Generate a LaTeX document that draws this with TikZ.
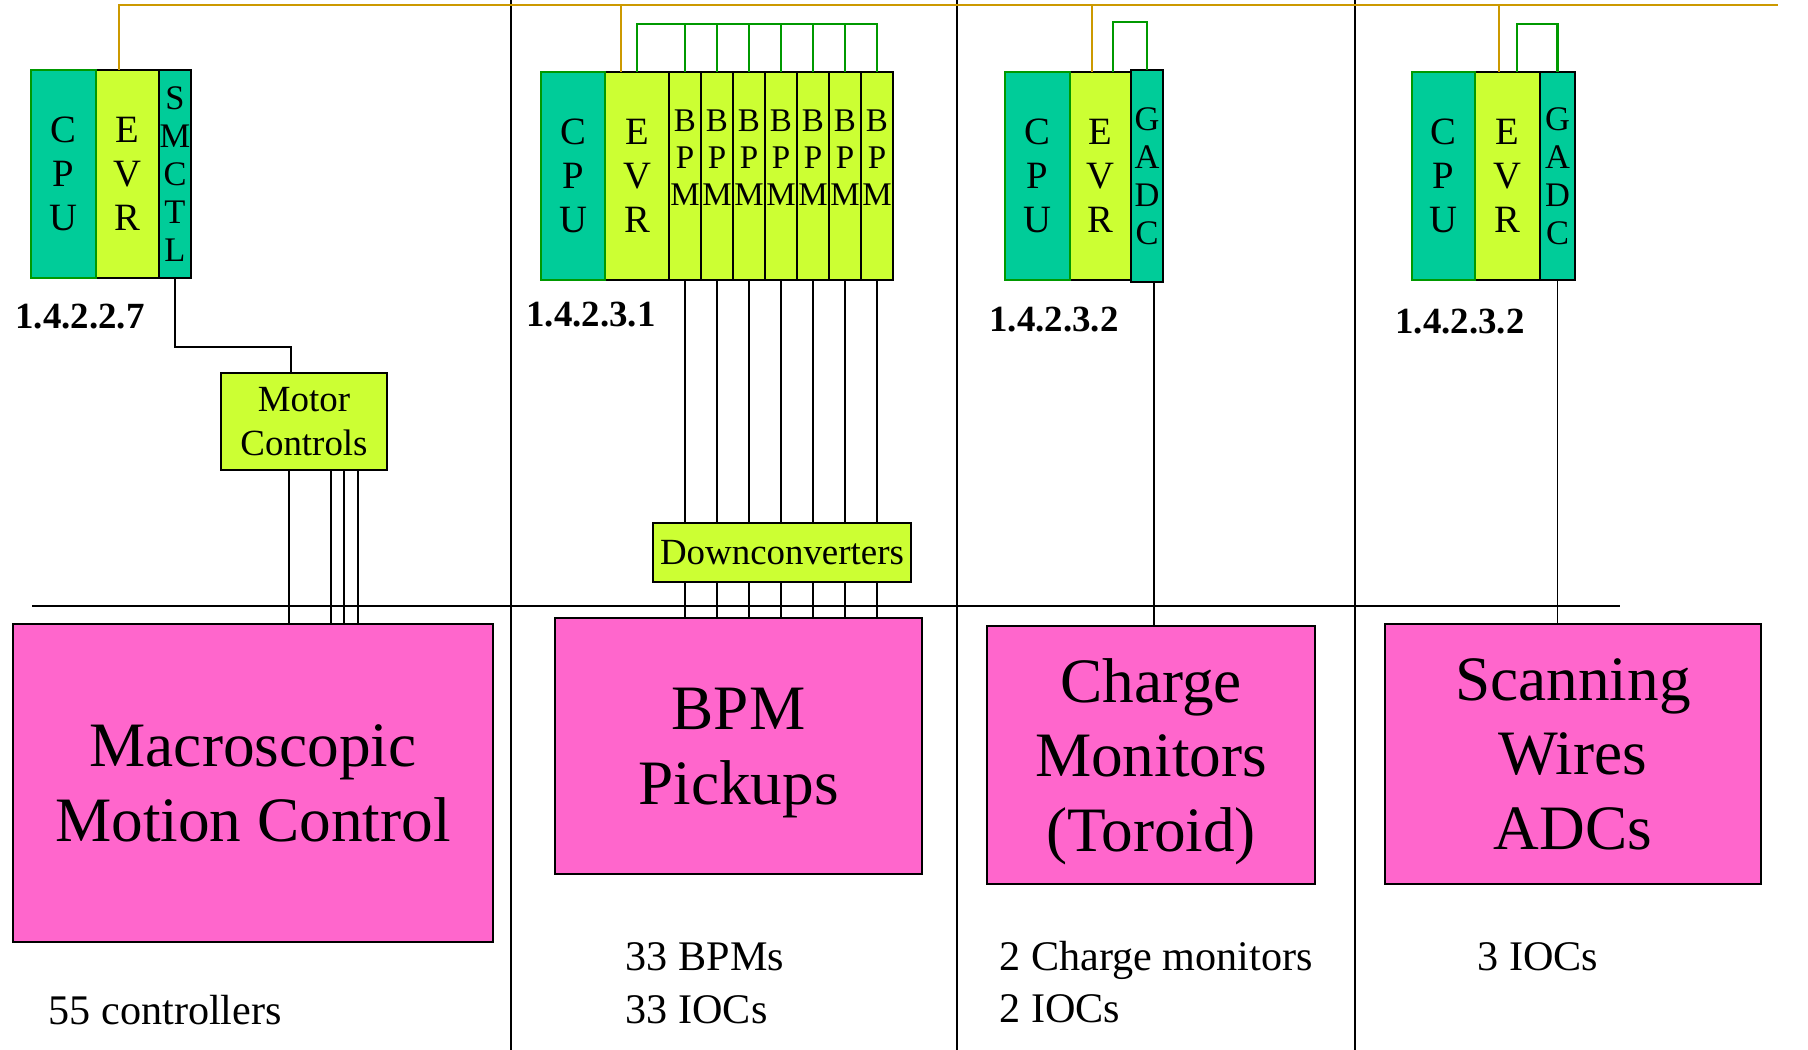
\documentclass[tikz,border=0pt]{standalone}
\usepackage{fontspec}
\setmainfont{Liberation Serif}
\usetikzlibrary{positioning,calc}
\definecolor{iocteal}{HTML}{00CC99}
\definecolor{ioclime}{HTML}{CCFF33}
\definecolor{devpink}{HTML}{FF66CC}
\definecolor{timegold}{HTML}{CC9900}
\definecolor{trigreen}{HTML}{009900}
\tikzset{
    every node/.style={font=\small},
    module/.style={draw=black,line width=0.6pt,inner sep=0pt,outer sep=0pt,align=center,minimum height=20.8mm},
    cpu/.style={module,draw=trigreen,fill=iocteal,font=\fontsize{11}{12.5}\selectfont},
    evr/.style={module,fill=ioclime,font=\fontsize{11}{12.5}\selectfont},
    slot/.style={module,minimum width=3.2mm,font=\fontsize{9.8}{10.8}\selectfont},
    bpm/.style={slot,fill=ioclime,font=\fontsize{9.4}{10.5}\selectfont},
    crateid/.style={font=\bfseries\fontsize{10.5}{12}\selectfont},
    ctrlbox/.style={draw=black,fill=ioclime,line width=0.6pt,inner sep=0pt,align=center,font=\fontsize{10.5}{12.6}\selectfont},
    sysbox/.style={draw=black,fill=devpink,line width=0.7pt,inner sep=0pt,align=center,text depth=0pt,font=\fontsize{18}{21.3}\selectfont},
    count/.style={anchor=west,align=left,inner sep=0pt,font=\fontsize{12}{15}\selectfont},
    wire/.style={draw=black,line width=0.5pt},
    timing/.style={draw=timegold,line width=0.6pt},
    trig/.style={draw=trigreen,line width=0.6pt},
    divider/.style={draw=black,line width=0.6pt}
}

\begin{document}
\begin{tikzpicture}[x=0.1mm,y=-0.1mm]
\useasboundingbox (0,0) rectangle (1808,1050);

% section dividers
\draw[divider] (511,0) -- (511,1050);
\draw[divider] (957,0) -- (957,1050);
\draw[divider] (1355,0) -- (1355,1050);
\draw[divider] (32,606) -- (1620,606);

% crate 1.4.2.2.7
\node[evr,anchor=north west,minimum width=6.3mm] (evrA) at (96,70) {E\\V\\R};
\node[cpu,left=0pt of evrA,minimum width=6.5mm] (cpuA) {C\\P\\U};
\node[slot,fill=iocteal,right=0pt of evrA] (smctl) {S\\M\\C\\T\\L};
\node[crateid] (idA) at (80,317) {1.4.2.2.7};

% crate 1.4.2.3.1
\node[evr,anchor=north west,minimum width=6.4mm] (evrB) at (605,72) {E\\V\\R};
\node[cpu,left=0pt of evrB,minimum width=6.4mm] (cpuB) {C\\P\\U};
\node[bpm,right=0pt of evrB] (bpm1) {B\\P\\M\\\mbox{}};
\foreach \k [count=\j from 1] in {2,...,7}
  \node[bpm,right=0pt of bpm\j] (bpm\k) {B\\P\\M\\\mbox{}};
\node[crateid] (idB) at (591,315) {1.4.2.3.1};

% crate 1.4.2.3.2 (charge)
\node[evr,anchor=north west,minimum width=6.1mm] (evrC) at (1070,72) {E\\V\\R};
\node[cpu,left=0pt of evrC,minimum width=6.5mm] (cpuC) {C\\P\\U};
\node[slot,fill=iocteal,right=0pt of evrC,minimum height=21.2mm] (gadcC) {G\\A\\D\\C};
\node[crateid] (idC) at (1054,320) {1.4.2.3.2};

% crate 1.4.2.3.2 (wires)
\node[evr,anchor=north west,minimum width=6.5mm] (evrD) at (1475,72) {E\\V\\R};
\node[cpu,left=0pt of evrD,minimum width=6.3mm] (cpuD) {C\\P\\U};
\node[slot,fill=iocteal,right=0pt of evrD,minimum width=3.5mm] (gadcD) {G\\A\\D\\C};
\node[crateid] (idD) at (1460,322) {1.4.2.3.2};

% front end boxes
\node[ctrlbox,minimum width=16.6mm,minimum height=9.7mm] (motor) at (304,421.5) {Motor\\Controls};
\node[ctrlbox,minimum width=25.8mm,minimum height=5.9mm] (dc) at (782,552.5) {Downconverters};

\node[sysbox,minimum width=48mm,minimum height=31.8mm] (macro) at (253,783) {Macroscopic\\Motion Control};
\node[sysbox,minimum width=36.7mm,minimum height=25.6mm] (pick) at (738.5,746) {BPM\\Pickups};
\node[sysbox,minimum width=32.8mm,minimum height=25.8mm] (chg) at (1151,755) {Charge\\Monitors\\(Toroid)};
\node[sysbox,minimum width=37.6mm,minimum height=26mm] (scan) at (1573,754) {Scanning\\Wires\\ADCs};

\node[count] (cntA) at (48,1010) {55 controllers};
\node[count] (cntB) at (625,983) {33 BPMs\\33 IOCs};
\node[count] (cntC) at (999,982) {2 Charge monitors\\2 IOCs};
\node[count] (cntD) at (1477,957) {3 IOCs};

% timing fan-out
\coordinate (tEnd) at (1778,5);
\draw[timing] ([xshift=2.3mm]evrA.north west) |- (tEnd);
\draw[timing] ([xshift=1.6mm]evrB.north west) |- (tEnd);
\draw[timing] ([xshift=2.2mm]evrC.north west) |- (tEnd);
\draw[timing] ([xshift=2.4mm]evrD.north west) |- (tEnd);

% triggers
\coordinate (busB) at (0,24);
\draw[trig] (evrB.north) |- (bpm7.north |- busB) -- (bpm7.north);
\foreach \k in {1,...,6}
  \draw[trig] (bpm\k.north) -- (bpm\k.north |- busB);
\draw[trig] ([xshift=4.3mm]evrC.north west) -- ++(0,-50) -| (gadcC.north);
\draw[trig] ([xshift=4.2mm]evrD.north west) -- ++(0,-48) -| (gadcD.north);

% signal wiring
\draw[wire] (smctl.south) -- ++(0,69) -| ([xshift=-1.3mm]motor.north);
\foreach \dx in {-1.5,2.7,4.0,5.4}
  \draw[wire] ([xshift=\dx mm]motor.south) -- ([xshift=\dx mm]motor.south |- macro.north);
\foreach \k in {1,...,7} {
  \draw[wire] (bpm\k.south) -- (bpm\k.south |- dc.north);
  \draw[wire] (bpm\k.south |- dc.south) -- (bpm\k.south |- pick.north);
}
\draw[wire] ([xshift=0.7mm]gadcC.south) -- ([xshift=0.7mm]gadcC.south |- chg.north);
\draw[wire] (gadcD.south) -- (gadcD.south |- scan.north);
\end{tikzpicture}
\end{document}
